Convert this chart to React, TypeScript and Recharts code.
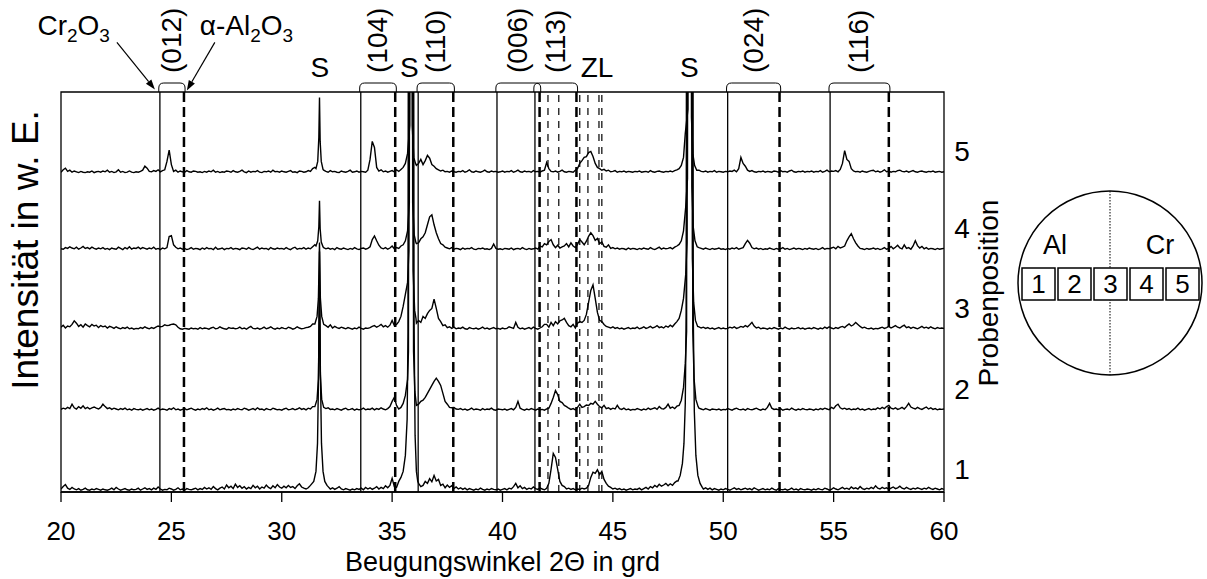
import React from "react";
import {
  LineChart,
  Line,
  XAxis,
  YAxis,
  ReferenceLine,
  ReferenceArea,
  ReferenceDot,
} from "recharts";

const FONT = '"Liberation Sans", Arial, Helvetica, sans-serif';

// 2Theta grid of the measured scans
const angleStart = 20;
const angleStep = 0.1;
const xTicks = [20, 25, 30, 35, 40, 45, 50, 55, 60];

// reflex positions: Cr2O3 (solid), alpha-Al2O3 (dashed), ZL (thin dashed)
const hklLabels = ["(012)", "(104)", "(110)", "(006)", "(113)", "(024)", "(116)"];
const cr2o3Pos = [24.48, 33.58, 36.18, 39.75, 41.47, 50.2, 54.84];
const al2o3Pos = [25.57, 35.14, 37.77, 41.68, 43.35, 52.55, 57.5];
const zlPos = [42.06, 42.55, 43.5, 43.87, 44.37, 44.5];
const substratePos = [31.72, 35.78, 48.46];
const zlLabelPos = 44.28;

const probeLabels = ["1", "2", "3", "4", "5"];
const traceOffset = [0.15, 20.15, 40.4, 60.3, 79.65];

// intensities (w. E.) on the 0.1 deg grid, position 5 .. 1
const trace5 = [
  0.3,0.9,1.3,0.5,0.8,0.3,0.6,0.4,0.2,0.5,0.3,0.2,0.4,0.3,0.6,0.2,0.4,0.5,0.3,0.6,
  0.4,0.8,0.3,0.5,0.2,0.4,0.9,0.3,0.5,0.2,0.3,0.6,0.3,0.2,0.4,0.3,0.5,0.8,1.8,1.3,
  0.5,0.4,0.7,0.5,0.9,0.4,0.7,0.9,3,5.8,2.2,0.5,0.8,0.3,0.6,0.4,0.3,0.7,0.4,0.3,
  0.6,0.5,0.3,0.4,0.2,0.5,0.3,0.6,0.4,0.8,0.3,0.5,0.2,0.4,0.3,0.6,0.5,0.3,0.7,0.4,
  0.3,0.5,0.8,0.4,0.2,0.6,0.3,0.5,0.4,0.7,0.3,0.2,0.5,0.4,0.6,0.3,0.8,0.4,0.5,0.3,
  0.6,0.4,0.3,0.5,0.7,0.3,0.4,0.2,0.6,0.5,0.3,0.4,0.7,0.5,1.2,1.5,4,19,3,0.8,
  0.5,0.3,0.7,0.4,0.5,0.3,0.2,0.6,0.4,0.3,0.5,0.8,0.3,0.4,0.6,0.3,0.5,0.4,0.3,0.8,
  3.5,8,6.5,1.5,0.6,0.9,0.4,0.6,0.3,0.5,0.7,0.4,0.9,0.5,1.0,2,5,150,150,10,
  3,2,2.5,3.5,2.2,3.2,4.5,3.8,2.2,1.8,1.2,0.9,0.6,0.8,0.4,0.5,0.3,0.6,0.4,0.3,
  0.5,0.4,0.7,0.3,0.5,0.9,0.4,0.3,0.6,0.4,0.3,0.5,0.8,0.4,0.3,0.6,0.4,0.5,0.3,0.4,
  0.6,0.3,0.5,0.4,0.7,0.3,0.5,0.8,0.4,0.3,0.6,0.4,0.5,0.3,0.7,0.4,0.5,0.3,0.6,0.8,
  2.7,1.2,0.5,0.4,0.6,0.3,0.5,0.8,0.4,0.3,0.5,0.4,0.3,0.8,1.2,2.5,3.2,4,4.2,5.2,
  5.5,4.2,2.5,1.5,1.2,0.8,1,0.6,0.8,0.4,0.5,0.7,0.3,0.5,0.4,0.6,0.3,0.5,0.4,0.3,
  0.5,0.4,0.6,0.3,0.4,0.5,0.3,0.7,0.4,0.3,0.5,0.6,0.4,0.3,0.5,0.4,0.6,0.4,0.7,0.9,
  1.2,2,4,20,150,150,10,2,1,0.8,0.5,0.4,0.6,0.3,0.5,0.4,0.7,0.3,0.5,0.4,
  0.3,0.5,0.4,0.6,0.5,0.8,0.4,1.2,4,2.5,1.8,0.8,0.5,0.7,0.4,0.3,0.5,0.4,0.6,0.3,
  0.5,0.4,0.3,0.6,0.5,0.3,0.7,0.4,0.5,0.3,0.6,0.8,0.4,0.3,0.5,0.4,0.6,0.3,0.5,0.4,
  0.6,0.3,0.5,0.4,0.7,0.3,0.5,0.8,0.4,0.6,0.5,0.7,0.4,1,2.5,5.7,3.5,3,1.2,0.6,
  0.4,0.5,0.3,0.6,0.4,0.3,0.5,0.7,0.8,0.4,0.6,0.3,0.5,0.9,0.4,0.6,0.3,0.5,0.4,0.7,
  0.8,0.5,0.4,0.6,0.3,0.5,0.7,0.4,0.3,0.5,0.6,0.4,0.3,0.5,0.4,0.6,0.3,0.4,0.5,0.3,
  0.4,
];

const trace4 = [
  0.5,0.4,0.8,0.6,1.0,0.7,0.5,0.9,0.4,0.7,1.1,0.6,0.8,0.5,0.9,0.6,0.4,0.7,0.5,0.8,
  0.4,0.6,0.3,0.7,0.5,0.4,0.9,0.6,0.3,0.8,0.5,1.0,0.4,0.7,0.6,0.9,0.5,0.8,0.6,0.4,
  0.7,0.5,0.9,0.4,0.6,0.3,0.7,0.5,0.8,3.6,3.8,1.5,0.9,0.5,0.7,0.4,0.6,0.3,0.5,0.8,
  0.4,0.6,0.5,0.3,0.7,0.4,0.8,0.5,0.6,0.3,0.9,0.4,0.5,0.7,0.3,0.6,0.5,0.8,0.4,0.6,
  0.5,0.3,0.7,0.6,0.4,0.8,0.5,0.3,0.6,0.9,0.4,0.7,0.5,0.6,0.3,0.8,0.5,0.4,0.7,0.5,
  0.6,0.4,0.8,0.5,0.3,0.7,0.9,0.4,0.6,0.5,0.8,0.4,0.7,0.5,1.0,1.5,4,12.5,3,0.8,
  0.5,0.7,0.4,0.6,0.3,0.8,0.5,0.4,0.7,0.5,0.3,0.6,0.4,0.8,0.5,0.3,0.6,0.7,0.4,0.6,
  1,2.8,3.7,2.5,1.4,0.7,0.5,0.8,0.4,0.7,1.2,0.5,0.8,0.6,1.2,2,5,150,150,10,
  3,1.8,2,3,3.5,4.5,6.5,8.5,9,6.5,4.5,3,1.8,1.5,0.9,0.7,0.5,0.8,0.4,0.6,
  0.5,0.3,0.7,0.4,0.6,0.5,0.8,0.4,0.3,0.6,0.5,0.7,0.4,0.5,0.3,0.6,1.7,0.6,0.4,0.5,
  0.3,0.6,0.5,0.4,0.7,0.3,0.5,0.6,0.4,0.8,0.5,0.3,0.6,0.4,0.5,0.7,0.4,1.2,1.0,1.8,
  1.5,2.3,2.8,1.5,0.8,1.4,0.7,1.0,1.2,1.8,1,2,1.2,0.8,1.6,2.8,2.2,1.5,2.4,3.6,
  4.5,3.8,2.6,3.1,1.8,2.2,1.1,0.9,1.5,0.6,0.8,0.5,0.7,0.4,0.6,0.5,0.3,0.7,0.4,0.6,
  0.5,0.3,0.6,0.4,0.7,0.5,0.4,0.8,0.5,0.3,0.6,0.9,0.4,0.7,0.5,0.6,0.8,0.5,0.9,1.2,
  1.6,2.5,4,20,150,150,10,2,1.2,0.8,0.6,0.4,0.7,0.5,0.3,0.6,0.4,0.5,0.7,0.4,
  0.5,0.3,0.6,0.4,0.7,0.5,0.8,0.4,0.6,0.8,1.8,2.6,1.9,0.8,0.5,0.7,0.4,0.6,0.3,0.5,
  0.4,0.7,0.5,0.3,0.6,0.4,0.5,0.8,0.4,0.6,0.3,0.5,0.7,0.4,0.6,0.5,0.3,0.6,0.4,0.7,
  0.5,0.4,0.6,0.3,0.5,0.8,0.4,0.6,0.5,0.7,0.9,0.5,1.1,0.7,0.9,1.2,2.5,3.5,4.3,3,
  2,1.2,0.6,0.5,0.3,0.6,0.4,0.5,0.7,0.4,0.6,0.3,0.5,0.8,0.4,0.6,1.1,0.5,0.9,1.4,
  0.7,0.5,1.5,0.6,0.8,0.4,1.2,2.5,1.3,0.7,1.1,0.5,0.8,0.4,0.6,0.5,0.3,0.6,0.4,0.5,
  0.6,
];

const trace3 = [
  0.8,1.3,0.6,1.1,0.9,1.5,2.4,1.8,1.0,1.4,0.8,1.6,1.2,0.9,1.5,1.1,1.3,0.7,1.2,0.9,
  1.1,0.6,1.0,0.8,0.5,0.9,0.6,0.4,0.7,0.5,0.8,0.4,0.6,0.3,0.5,0.4,0.7,0.5,0.9,0.6,
  0.4,0.7,0.5,0.8,1.1,0.9,1.0,1.4,1.2,1.3,1.5,1.6,1.4,0.8,0.4,0.3,0.5,0.4,0.3,0.6,
  0.4,0.5,0.3,0.7,0.4,0.6,0.5,0.3,0.6,0.8,0.4,0.5,0.9,0.6,0.4,0.3,0.7,0.5,0.6,0.4,
  0.5,0.8,0.4,0.6,0.3,0.7,1.0,0.5,0.4,0.6,0.3,0.5,0.8,0.4,0.6,0.9,0.5,0.3,0.6,0.4,
  0.7,0.5,0.4,0.8,0.6,0.3,0.5,0.9,0.6,0.4,0.5,0.7,0.8,1.0,1.6,3,6,22,5,1.5,
  1.2,0.8,1.4,0.6,1.0,0.7,0.5,0.8,0.6,0.4,0.7,0.5,0.3,0.6,0.4,0.8,0.5,0.3,0.6,0.5,
  0.7,1.0,1.2,0.8,1.1,1.5,0.9,1.2,0.8,1.3,2.5,1.2,1.5,2.2,3.5,6,12,150,150,10,
  3.5,1.8,2.5,2,3.5,3,4.2,5,5.5,7.8,5.5,3,2.2,1.2,1.4,0.7,0.9,0.5,0.8,0.4,
  0.6,0.5,0.8,0.4,0.3,0.7,0.5,0.4,0.6,0.3,0.5,0.8,0.4,0.6,0.3,0.5,0.7,0.4,0.5,0.3,
  0.6,0.4,0.5,0.9,0.7,0.5,2.0,0.8,0.4,0.6,0.3,0.5,0.7,0.4,0.8,0.5,0.3,0.6,0.9,1.5,
  1.5,0.8,2,1.2,2.2,1.6,2.4,2.6,3,2,1.2,0.9,1.5,0.6,1.8,2.2,2,2.5,4,7,
  10,11.4,8,4.5,2.5,2.2,1.5,1,0.8,0.6,0.9,0.5,0.7,0.4,0.6,0.3,0.5,0.7,0.4,0.6,
  0.5,0.8,0.4,0.6,0.9,0.5,0.7,1.0,0.6,0.8,1.2,0.7,0.9,0.6,1.1,0.8,1.3,0.9,1.6,2.2,
  3,5,8,25,150,150,10,2.5,1.2,0.9,0.6,0.8,0.5,0.7,0.4,0.6,0.3,0.5,0.7,0.4,
  0.6,0.4,0.5,0.8,0.6,0.9,0.5,0.7,1.0,0.8,1.2,0.9,1.4,2.0,1.1,0.6,0.8,0.4,0.6,0.5,
  0.3,0.6,0.4,0.7,0.5,0.3,0.6,0.4,0.8,0.5,0.3,0.6,0.4,0.5,0.7,0.4,0.6,0.3,0.5,0.6,
  0.4,0.7,0.5,0.3,0.6,0.4,0.8,0.5,0.9,0.6,0.4,0.7,0.5,0.8,1.0,0.7,1.2,1.6,1.1,1.4,
  2.0,1.5,1.0,0.6,0.8,0.5,0.4,0.6,0.3,0.5,0.4,0.6,0.8,0.5,0.7,1.0,0.6,0.9,1.2,0.8,
  0.6,1.0,1.3,0.7,0.9,0.5,0.8,0.6,0.4,0.7,1.0,0.6,0.8,0.5,0.9,0.6,0.4,0.7,0.5,0.6,
  0.5,
];

const trace2 = [
  0.5,0.8,0.6,1.0,0.7,1.8,0.9,0.6,1.2,0.8,1.4,0.7,1.0,0.6,0.9,1.1,0.8,0.6,1.0,1.8,
  1.2,0.7,0.9,0.5,0.8,0.6,0.4,0.7,0.5,0.8,0.4,0.6,0.3,0.7,0.5,0.4,0.6,0.3,0.5,0.7,
  0.4,0.6,0.3,0.5,0.8,0.4,0.6,0.5,0.3,0.7,0.5,0.9,0.4,0.6,0.3,0.5,0.7,0.4,0.6,0.8,
  0.5,0.3,0.6,0.4,0.7,0.5,0.9,0.4,0.6,0.3,0.5,0.8,0.4,0.6,0.7,0.4,0.5,0.3,0.6,0.4,
  0.7,0.5,0.4,0.8,0.6,0.3,0.5,0.7,0.4,0.9,0.5,0.6,0.3,0.7,0.5,0.4,0.8,0.6,0.4,0.5,
  0.3,0.6,0.8,0.4,0.5,0.7,0.4,0.6,0.9,0.5,0.7,0.4,0.8,0.6,1.2,2,5,30,4,1,
  0.7,0.9,0.5,0.6,0.4,0.7,0.5,0.3,0.6,0.8,0.4,0.5,0.7,0.3,0.6,0.4,0.5,0.8,0.4,0.6,
  0.5,0.8,0.4,0.7,0.5,0.9,0.6,0.4,0.7,1.2,2.5,3.5,1.5,0.6,1.0,2,5,150,150,10,
  3,1.5,1.8,2.5,2.8,3.5,4.5,5.5,6.5,7.5,8.3,7.5,6.5,4.5,2.5,1.8,1.0,0.9,1.0,0.6,
  0.5,0.7,0.4,0.6,0.3,0.5,0.8,0.4,0.6,0.5,0.3,0.7,0.4,0.6,0.5,0.8,0.4,0.3,0.6,0.5,
  0.4,0.6,0.3,0.5,0.7,0.4,1.0,2.5,0.8,0.5,0.3,0.6,0.4,0.7,0.5,0.3,0.6,0.4,0.5,0.3,
  0.6,0.8,2,3.5,5.2,4.2,2.5,2.2,1.5,1.2,0.8,0.5,0.7,0.4,1,1.8,1,1.2,1.6,1.5,
  2,1.8,2.5,1.8,1.2,0.9,1.5,0.7,0.9,0.5,0.8,0.6,1.5,0.7,0.5,0.8,0.4,0.6,0.3,0.5,
  0.4,0.7,0.5,0.3,0.6,0.4,0.8,0.5,0.7,0.9,0.5,1.2,0.7,0.6,1.0,1.8,0.8,1.1,0.7,1.3,
  1.5,2.8,5,20,150,150,10,2.5,1.5,0.8,0.6,0.4,0.7,0.5,0.3,0.6,0.5,0.4,0.6,0.3,
  0.5,0.4,0.7,0.5,0.3,0.6,0.8,0.5,0.4,0.6,0.3,0.7,0.5,0.4,0.6,0.8,0.5,0.3,0.6,0.4,
  1.0,2.0,0.8,0.5,0.6,0.4,0.7,0.3,0.5,0.6,0.4,0.8,0.5,0.3,0.6,0.4,0.7,0.5,0.4,0.6,
  0.5,0.3,0.6,0.4,0.7,0.5,0.8,0.6,0.4,1.0,0.7,1.4,1.8,0.9,0.6,0.8,0.5,0.7,0.4,0.6,
  0.5,0.8,0.4,0.6,0.3,0.5,0.7,0.4,0.6,0.5,0.9,0.6,1.0,0.7,1.2,1.5,0.8,0.6,0.9,0.5,
  0.7,1.0,0.6,1.2,2.0,1.1,0.8,0.6,1.0,0.7,0.5,0.8,1.1,0.6,0.9,0.5,0.7,0.4,0.6,0.5,
  0.6,
];

const trace1 = [
  0.6,1.2,1.7,0.8,0.5,1.0,0.6,0.4,0.7,0.3,0.5,0.8,0.4,0.3,0.6,0.4,0.7,0.5,0.3,0.6,
  0.4,0.3,0.5,0.8,0.4,1.0,0.6,0.3,0.5,0.7,0.4,0.3,0.6,0.4,0.5,0.8,0.3,0.6,0.9,0.5,
  0.7,0.4,0.8,0.5,1.1,0.6,0.3,0.5,0.4,0.8,0.6,0.3,0.5,0.9,0.4,0.6,0.3,0.7,0.5,0.4,
  0.6,0.8,0.4,0.7,0.5,1.0,0.6,0.9,0.5,1.2,0.7,0.4,0.8,1.1,0.6,1.6,0.9,1.3,0.7,1.8,
  1.0,1.4,0.8,1.2,0.6,1.0,0.7,1.5,0.9,1.3,0.6,1.1,0.8,1.6,1.0,0.7,1.4,0.9,1.7,1.1,
  0.8,1.3,0.9,1.5,1.0,1.2,0.7,1.4,1.9,1.1,0.8,0.6,0.9,1.5,2.5,6,20,60,20,6,
  2.5,1.2,0.6,0.9,0.5,0.8,1.2,0.6,0.4,0.7,0.5,0.3,0.6,0.4,0.7,0.5,0.8,0.4,1.0,0.6,
  0.9,0.5,0.8,1.2,0.6,1.0,0.7,1.4,0.9,1.5,3.3,1.2,1.0,2.5,3.5,5,9,60,150,50,
  10,4,2,1.2,1.5,2.5,2,3.2,2.4,4,2.6,3,1.5,1.8,0.9,1.6,1.0,1.4,0.7,1.1,
  0.6,0.9,0.5,0.8,0.4,0.7,0.5,0.3,0.6,0.4,0.8,0.5,0.3,0.6,0.4,0.7,0.5,0.4,0.6,0.3,
  0.5,0.7,0.4,0.8,0.6,1.2,2.0,0.9,1.4,0.7,1.0,0.5,0.8,0.6,1.1,0.7,0.5,0.9,0.6,0.4,
  0.8,2,5.5,9.5,8.5,5.5,2.5,1.5,1.2,0.6,0.8,0.5,0.7,0.4,0.6,0.5,0.8,0.6,0.8,1.5,
  3.5,4.8,4.5,5.4,4.2,5,3,2,1.3,1,0.6,0.8,0.5,0.7,0.4,0.6,0.3,0.5,0.7,0.4,
  0.6,0.5,0.8,0.4,0.7,1.0,0.6,1.2,0.9,1.5,1.1,1.8,1.3,1.6,2.0,1.4,1.9,1.5,2.2,2.6,
  3.5,6,12,40,150,150,40,10,4,2,1.2,0.6,0.9,0.5,0.8,0.4,0.7,0.5,0.3,0.6,
  0.4,0.7,0.5,0.3,0.6,0.9,0.5,0.7,0.4,0.6,0.8,0.5,0.7,0.4,0.9,0.6,0.3,0.5,0.7,0.4,
  0.6,0.4,0.8,0.5,0.3,0.7,0.5,0.4,0.6,0.3,0.5,0.8,0.4,0.6,0.3,0.7,0.5,0.4,0.6,0.5,
  0.3,0.6,0.4,0.7,0.5,0.4,0.8,0.6,0.3,0.5,0.9,0.6,0.4,0.7,1.0,0.6,0.8,0.5,1.1,0.7,
  0.9,0.6,1.2,0.7,0.5,0.8,0.6,1.0,0.7,1.4,0.8,0.6,1.0,0.7,0.9,0.5,0.8,1.1,0.7,0.9,
  1.3,0.8,0.6,1.0,0.7,0.5,0.8,0.6,0.9,0.7,0.5,0.8,0.6,1.0,0.7,0.5,0.8,0.6,0.4,0.7,
  0.5,
];

// substrate reflexes (S) sampled finer: [2Theta, intensity]
const sPeaks5 = [
  [[31.55,1.2],[31.63,3],[31.68,9],[31.71,19],[31.74,8],[31.79,3],[31.87,1]],
  [[35.5,1.5],[35.6,2.5],[35.7,5],[35.8,12],[35.83,200],[35.88,200],[35.91,12],[35.98,4],[36.06,2.5]],
  [[48.0,1.2],[48.1,2],[48.2,4],[48.28,10],[48.4,16],[48.43,200],[48.53,200],[48.56,14],[48.62,5],[48.7,2],[48.8,0.8]],
];
const sPeaks4 = [
  [[31.55,1.2],[31.63,2.5],[31.68,6],[31.71,12.5],[31.74,5.5],[31.79,2.2],[31.87,1]],
  [[35.5,1.5],[35.6,2.5],[35.7,5],[35.78,12],[35.81,200],[35.9,200],[35.93,12],[36.0,4],[36.08,2]],
  [[48.0,1.6],[48.1,2.5],[48.2,5],[48.3,11],[48.38,18],[48.41,200],[48.55,200],[48.58,16],[48.64,6],[48.72,2.5],[48.82,1]],
];
const sPeaks3 = [
  [[31.5,1.6],[31.6,3.5],[31.66,8],[31.71,22],[31.75,8],[31.81,3.5],[31.9,1.5]],
  [[35.5,6],[35.6,9],[35.7,12],[35.76,20],[35.79,200],[35.92,200],[35.95,15],[36.02,5],[36.08,3]],
  [[48.0,3],[48.1,5],[48.2,8],[48.3,14],[48.36,22],[48.39,200],[48.57,200],[48.6,18],[48.66,7],[48.74,2.5],[48.84,1]],
];
const sPeaks2 = [
  [[31.5,1.2],[31.6,3],[31.66,8],[31.71,30],[31.75,9],[31.81,3],[31.9,1]],
  [[35.5,2],[35.6,4],[35.7,8],[35.74,15],[35.77,200],[35.94,200],[35.97,15],[36.03,5],[36.08,2.5]],
  [[48.0,1.5],[48.1,2.8],[48.2,6],[48.28,12],[48.34,20],[48.37,200],[48.59,200],[48.62,20],[48.68,8],[48.76,3],[48.86,1.2]],
];
const sPeaks1 = [
  [[31.3,1.5],[31.45,2.5],[31.55,5],[31.62,12],[31.67,30],[31.71,60],[31.75,30],[31.8,12],[31.87,5],[31.95,2.5],[32.05,1.5]],
  [[35.3,2.5],[35.4,3.5],[35.5,5],[35.6,9],[35.68,18],[35.72,40],[35.75,200],[35.96,200],[35.99,45],[36.04,14],[36.1,5],[36.16,2.5]],
  [[47.95,2.6],[48.05,4],[48.15,7],[48.22,12],[48.28,22],[48.32,45],[48.35,200],[48.61,200],[48.64,45],[48.69,20],[48.76,9],[48.85,4],[48.95,2],[49.05,1]],
];

function buildTrace(values: number[], peaks: number[][][], offset: number) {
  const pts = values
    .map((v, i) => ({ x: Math.round((angleStart + i * angleStep) * 100) / 100, y: v }))
    .filter((p) => !peaks.some((g) => p.x >= g[0][0] && p.x <= g[g.length - 1][0]));
  peaks.forEach((g) => g.forEach(([x, v]) => pts.push({ x, y: v })));
  pts.sort((a, b) => a.x - b.x);
  return pts.map((p) => ({ x: p.x, y: p.y + offset }));
}

const traces = [
  buildTrace(trace1, sPeaks1, traceOffset[0]),
  buildTrace(trace2, sPeaks2, traceOffset[1]),
  buildTrace(trace3, sPeaks3, traceOffset[2]),
  buildTrace(trace4, sPeaks4, traceOffset[3]),
  buildTrace(trace5, sPeaks5, traceOffset[4]),
];

function Arrow({ x1, y1, x2, y2 }: any) {
  const dx = x2 - x1;
  const dy = y2 - y1;
  const len = Math.hypot(dx, dy);
  const ux = dx / len;
  const uy = dy / len;
  const bx = x2 - ux * 10;
  const by = y2 - uy * 10;
  return (
    <g>
      <line x1={x1} y1={y1} x2={bx} y2={by} stroke="#000" strokeWidth={1.2} />
      <polygon
        points={`${x2},${y2} ${bx - uy * 3.5},${by + ux * 3.5} ${bx + uy * 3.5},${by - ux * 3.5}`}
        fill="#000"
      />
    </g>
  );
}

function Bracket(props: any) {
  const { x, y, width, height, text } = props;
  const r = 5;
  const b = y + height;
  const d = `M${x},${b} L${x},${y + r} Q${x},${y} ${x + r},${y} L${x + width - r},${y} Q${x + width},${y} ${x + width},${y + r} L${x + width},${b}`;
  return (
    <g>
      <path d={d} fill="none" stroke="#000" strokeWidth={1} />
      <text transform={`translate(${x + width / 2 + 9},${y - 10}) rotate(-90)`} fontSize={28} fill="#000">
        {text}
      </text>
    </g>
  );
}

const sub = { fontSize: 19 };

export default function App() {
  return (
    <div style={{ position: "fixed", left: 0, top: 0, width: 1207, height: 579, background: "#fff", fontFamily: FONT }}>
      <LineChart width={1207} height={579} margin={{ top: 92, right: 263, bottom: 27, left: 61 }}>
        <XAxis
          dataKey="x"
          type="number"
          domain={[20, 60]}
          ticks={xTicks}
          allowDataOverflow
          height={60}
          tickSize={10}
          tickMargin={20}
          axisLine={{ stroke: "#000", strokeWidth: 1.3 }}
          tickLine={{ stroke: "#000", strokeWidth: 1.3 }}
          tick={{ fill: "#000", fontSize: 26 }}
        />
        <YAxis type="number" domain={[0, 100]} allowDataOverflow hide />
        <ReferenceArea x1={20} x2={60} y1={0} y2={100} fill="none" stroke="#000" strokeWidth={1.3} ifOverflow="visible" />

        {cr2o3Pos.map((x) => (
          <ReferenceLine key={"cr" + x} x={x} stroke="#000" strokeWidth={1.3} />
        ))}
        {al2o3Pos.map((x) => (
          <ReferenceLine key={"al" + x} x={x} stroke="#000" strokeWidth={2.5} strokeDasharray="10 5" />
        ))}
        {zlPos.map((x) => (
          <ReferenceLine key={"zl" + x} x={x} stroke="#000" strokeWidth={1.2} strokeDasharray="7 6" />
        ))}

        {hklLabels.map((t, i) => (
          <ReferenceArea
            key={t}
            x1={cr2o3Pos[i] - 0.05}
            x2={al2o3Pos[i] + 0.05}
            y1={100}
            y2={102.25}
            ifOverflow="visible"
            shape={(p: any) => <Bracket {...p} text={t} />}
          />
        ))}
        {substratePos.map((x) => (
          <ReferenceDot
            key={"s" + x}
            x={x}
            y={103.75}
            r={0}
            ifOverflow="visible"
            shape={(p: any) => (
              <text x={p.cx} y={p.cy} textAnchor="middle" fontSize={28} fill="#000">S</text>
            )}
          />
        ))}
        <ReferenceDot
          x={zlLabelPos}
          y={103.75}
          r={0}
          ifOverflow="visible"
          shape={(p: any) => (
            <text x={p.cx} y={p.cy} textAnchor="middle" fontSize={28} fill="#000">ZL</text>
          )}
        />
        <ReferenceDot
          x={24.3}
          y={100.4}
          r={0}
          ifOverflow="visible"
          shape={(p: any) => (
            <g>
              <text x={p.cx - 46} y={p.cy - 55} textAnchor="end" fontSize={28} fill="#000">
                Cr<tspan {...sub} dy={7}>2</tspan>
                <tspan dy={-7}>O</tspan>
                <tspan {...sub} dy={7}>3</tspan>
              </text>
              <Arrow x1={p.cx - 39} y1={p.cy - 48} x2={p.cx - 1} y2={p.cy - 1} />
            </g>
          )}
        />
        <ReferenceDot
          x={25.7}
          y={100.4}
          r={0}
          ifOverflow="visible"
          shape={(p: any) => (
            <g>
              <text x={p.cx + 13} y={p.cy - 55} fontSize={28} fill="#000">
                α-Al<tspan {...sub} dy={7}>2</tspan>
                <tspan dy={-7}>O</tspan>
                <tspan {...sub} dy={7}>3</tspan>
              </text>
              <Arrow x1={p.cx + 28} y1={p.cy - 48} x2={p.cx} y2={p.cy} />
            </g>
          )}
        />

        {traces.map((d, i) => (
          <Line
            key={"t" + i}
            data={d}
            dataKey="y"
            type="linear"
            stroke="#000"
            strokeWidth={1.4}
            dot={false}
            activeDot={false}
            isAnimationActive={false}
          />
        ))}

        {probeLabels.map((l, i) => (
          <ReferenceDot
            key={"p" + l}
            x={60}
            y={traceOffset[i] + 5.5}
            r={0}
            ifOverflow="visible"
            shape={(p: any) => (
              <text x={p.cx + 18} y={p.cy} textAnchor="middle" dominantBaseline="central" fontSize={28} fill="#000">
                {l}
              </text>
            )}
          />
        ))}
      </LineChart>

      <svg width={1207} height={579} style={{ position: "absolute", left: 0, top: 0, pointerEvents: "none" }}>
        <text transform="translate(38,250) rotate(-90)" textAnchor="middle" fontSize={37} fill="#000">
          Intensität in w. E.
        </text>
        <text transform="translate(998,293) rotate(-90)" textAnchor="middle" fontSize={28} fill="#000">
          Probenposition
        </text>
        <text x={502.5} y={571} textAnchor="middle" fontSize={27} fill="#000">
          Beugungswinkel 2Θ in grd
        </text>

        {/* Probenlage auf dem Substrat */}
        <circle cx={1110} cy={283} r={92} fill="none" stroke="#000" strokeWidth={1.5} />
        <line x1={1110} y1={191} x2={1110} y2={375} stroke="#000" strokeWidth={1} strokeDasharray="1.5 1.5" />
        <text x={1055} y={254} textAnchor="middle" fontSize={27} fill="#000">Al</text>
        <text x={1160} y={254} textAnchor="middle" fontSize={27} fill="#000">Cr</text>
        {probeLabels.map((l, i) => (
          <g key={"b" + l}>
            <rect x={1022 + i * 36} y={268} width={33} height={32} fill="#fff" stroke="#000" strokeWidth={1.5} />
            <text x={1038.5 + i * 36} y={284} textAnchor="middle" dominantBaseline="central" fontSize={26} fill="#000">
              {l}
            </text>
          </g>
        ))}
      </svg>
    </div>
  );
}
